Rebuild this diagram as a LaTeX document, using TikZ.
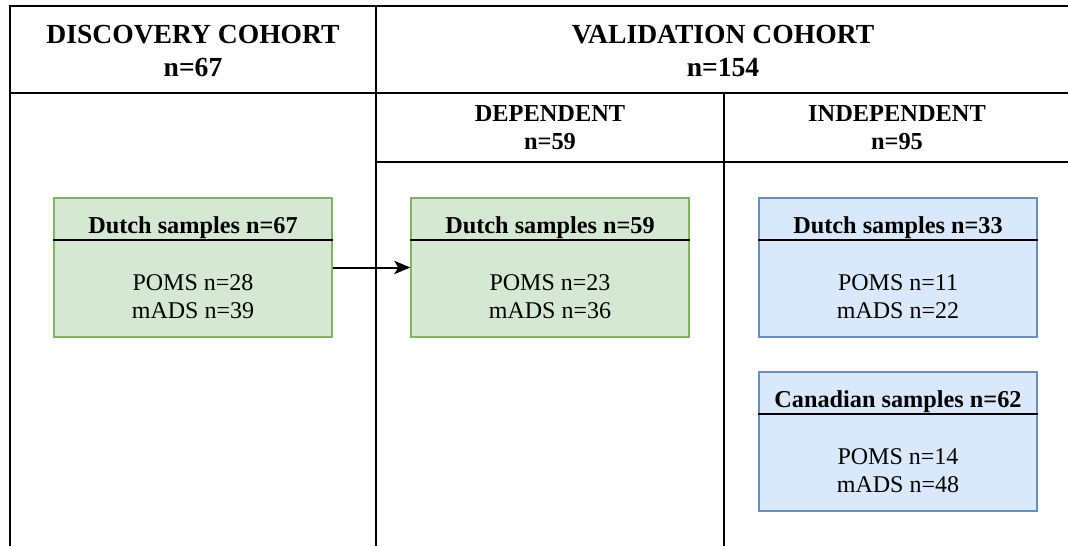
\documentclass[tikz,border=0pt]{standalone}
\usepackage{fontspec}
\setmainfont{Liberation Serif}
\usetikzlibrary{positioning,calc,arrows.meta}
\definecolor{greenfill}{HTML}{D5E8D4}
\definecolor{greendraw}{HTML}{82B366}
\definecolor{bluefill}{HTML}{DAE8FC}
\definecolor{bluedraw}{HTML}{6C8EBF}
\tikzstyle{frame}=[draw=black,line width=1.5pt]
\tikzstyle{head}=[font=\fontsize{20.7}{24.5}\selectfont\bfseries,align=center]
\tikzstyle{subhead}=[font=\fontsize{18.3}{21}\selectfont\bfseries,align=center]
\tikzstyle{sample}=[shape=rectangle,minimum width=208.5pt,minimum height=104.25pt,line width=1.1pt]
\tikzstyle{Gsample}=[sample,draw=greendraw,fill=greenfill]
\tikzstyle{Bsample}=[sample,draw=bluedraw,fill=bluefill]
\tikzstyle{title}=[font=\fontsize{18.2}{21}\selectfont\bfseries]
\tikzstyle{counts}=[font=\fontsize{18}{21}\selectfont,align=center]
\tikzstyle{sep}=[draw=black,line width=1.4pt]
\tikzstyle{flow}=[-{Stealth[length=12pt,width=10pt,inset=3pt]},line width=1.5pt]

\begin{document}
\begin{tikzpicture}[x=0.75pt,y=-0.75pt]
\useasboundingbox (0,0) rectangle (1068,546);

% grid of the cohorts
\draw[frame] (10,546) -- (10,6) -- (1068,6);
\draw[frame] (10,93) -- (1068,93);
\draw[frame] (376,6) -- (376,546);
\draw[frame] (376,162) -- (1068,162);
\draw[frame] (724,93) -- (724,546);

\node[head] (DISC) at (193,51) {DISCOVERY COHORT\\n=67};
\node[head] (VALID) at (723,51) {VALIDATION COHORT\\n=154};
\node[subhead] (DEP) at (550,128) {DEPENDENT\\n=59};
\node[subhead] (INDEP) at (897,128) {INDEPENDENT\\n=95};

% discovery samples
\node[Gsample] (D1) at (193,267.5) {};
\node[title] (D1t) at ($(D1.north)+(0,30)$) {Dutch samples n=67};
\draw[sep] ($(D1.north west)+(0,43)$) -- ($(D1.north east)+(0,43)$);
\node[counts] (D1c) at ($(D1.center)+(0,29)$) {POMS n=28\\mADS n=39};

% dependent samples
\node[Gsample] (D2) at (550,267.5) {};
\node[title] (D2t) at ($(D2.north)+(0,30)$) {Dutch samples n=59};
\draw[sep] ($(D2.north west)+(0,43)$) -- ($(D2.north east)+(0,43)$);
\node[counts] (D2c) at ($(D2.center)+(0,29)$) {POMS n=23\\mADS n=36};

% independent samples
\node[Bsample] (D3) at (898,267.5) {};
\node[title] (D3t) at ($(D3.north)+(0,30)$) {Dutch samples n=33};
\draw[sep] ($(D3.north west)+(0,43)$) -- ($(D3.north east)+(0,43)$);
\node[counts] (D3c) at ($(D3.center)+(0,29)$) {POMS n=11\\mADS n=22};

\node[Bsample] (C1) at (898,441.5) {};
\node[title] (C1t) at ($(C1.north)+(0,30)$) {Canadian samples n=62};
\draw[sep] ($(C1.north west)+(0,43)$) -- ($(C1.north east)+(0,43)$);
\node[counts] (C1c) at ($(C1.center)+(0,29)$) {POMS n=14\\mADS n=48};

\path (D1) edge [flow] (D2);

\end{tikzpicture}
\end{document}
